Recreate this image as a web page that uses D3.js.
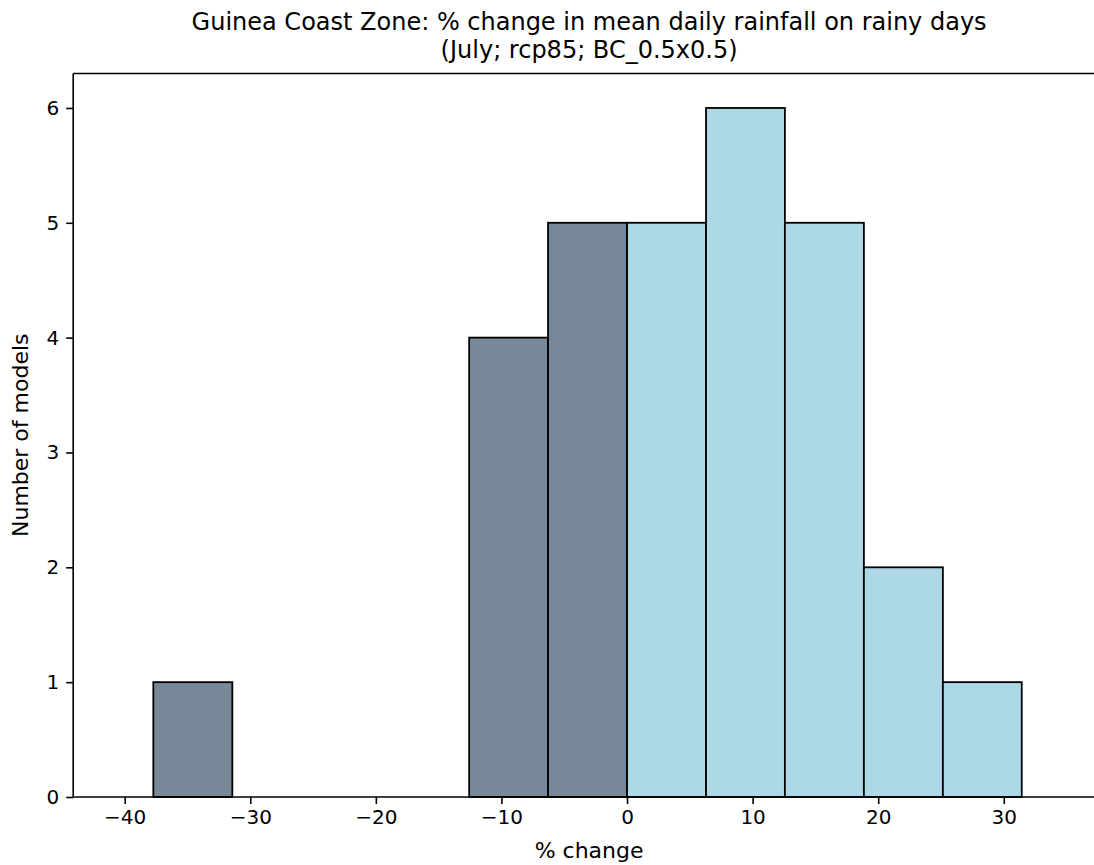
<!DOCTYPE html>
<html>
<head>
<meta charset="utf-8">
<script src="https://cdn.jsdelivr.net/npm/d3@7"></script>
<style>
  html, body { margin: 0; padding: 0; background: #ffffff; }
  svg { display: block; }
  text { font-family: "DejaVu Sans", sans-serif; fill: #000; }
</style>
</head>
<body>
<svg id="chart" width="1094" height="865"></svg>
<script>
// ---- data ----
const binEdges = [-37.72, -31.43, -25.15, -18.86, -12.57, -6.29, 0.0, 6.29, 12.57, 18.86, 25.15, 31.43];
const counts   = [1, 0, 0, 0, 4, 5, 5, 6, 5, 2, 1];
const xTicks   = [-40, -30, -20, -10, 0, 10, 20, 30];
const yTicks   = [0, 1, 2, 3, 4, 5, 6];
const titleLines = ["Guinea Coast Zone: % change in mean daily rainfall on rainy days", "(July; rcp85; BC_0.5x0.5)"];
const xLabel = "% change";
const yLabel = "Number of models";

// ---- layout ----
const plotLeft = 73.2, plotRight = 1105, plotTop = 73.5, plotBottom = 797;
const svg = d3.select("#chart");

const x = d3.scaleLinear().domain([-44.1, 38.06]).range([plotLeft, plotRight]);
const y = d3.scaleLinear().domain([0, 6.3]).range([plotBottom, plotTop]);

const bins = counts.map((c, i) => ({x0: binEdges[i], x1: binEdges[i + 1], count: c}));

// bars
svg.append("g").selectAll("rect")
  .data(bins.filter(d => d.count > 0))
  .join("rect")
  .attr("x", d => x(d.x0))
  .attr("width", d => x(d.x1) - x(d.x0))
  .attr("y", d => y(d.count))
  .attr("height", d => y(0) - y(d.count))
  .attr("fill", d => d.x1 <= 0.001 ? "#778899" : "#add8e6")
  .attr("stroke", "#000")
  .attr("stroke-width", 1.8);

// axes
const xAxis = d3.axisBottom(x).tickValues(xTicks).tickSize(7).tickPadding(6)
  .tickFormat(d => d < 0 ? "\u2212" + Math.abs(d) : String(d));
const gx = svg.append("g").attr("transform", `translate(0,${plotBottom})`).call(xAxis);
gx.select(".domain").remove();
gx.selectAll(".tick line").attr("stroke", "#000").attr("stroke-width", 1.6);
gx.selectAll(".tick text").attr("font-size", 20).attr("font-family", "DejaVu Sans").attr("fill", "#000");

const yAxis = d3.axisLeft(y).tickValues(yTicks).tickSize(7).tickPadding(7).tickFormat(d3.format("d"));
const gy = svg.append("g").attr("transform", `translate(${plotLeft},0)`).call(yAxis);
gy.select(".domain").remove();
gy.selectAll(".tick line").attr("stroke", "#000").attr("stroke-width", 1.6);
gy.selectAll(".tick text").attr("font-size", 20).attr("font-family", "DejaVu Sans").attr("fill", "#000");

// spines
const sp = svg.append("g").attr("stroke", "#000").attr("stroke-width", 1.6).attr("fill", "none");
sp.append("line").attr("x1", plotLeft).attr("x2", plotLeft).attr("y1", plotTop).attr("y2", plotBottom);
sp.append("line").attr("x1", plotLeft).attr("x2", plotRight).attr("y1", plotBottom).attr("y2", plotBottom);
sp.append("line").attr("x1", plotLeft).attr("x2", plotRight).attr("y1", plotTop).attr("y2", plotTop);
sp.append("line").attr("x1", plotRight).attr("x2", plotRight).attr("y1", plotTop).attr("y2", plotBottom);

// title
const cx = (plotLeft + plotRight) / 2;
svg.append("text").attr("x", cx).attr("y", 30).attr("text-anchor", "middle").attr("font-size", 24).text(titleLines[0]);
svg.append("text").attr("x", cx).attr("y", 58).attr("text-anchor", "middle").attr("font-size", 24).text(titleLines[1]);

// axis labels
svg.append("text").attr("x", cx).attr("y", 858).attr("text-anchor", "middle").attr("font-size", 22).text(xLabel);
svg.append("text").attr("transform", `translate(28.3,${(plotTop + plotBottom) / 2}) rotate(-90)`)
  .attr("text-anchor", "middle").attr("font-size", 22).text(yLabel);
</script>
</body>
</html>
